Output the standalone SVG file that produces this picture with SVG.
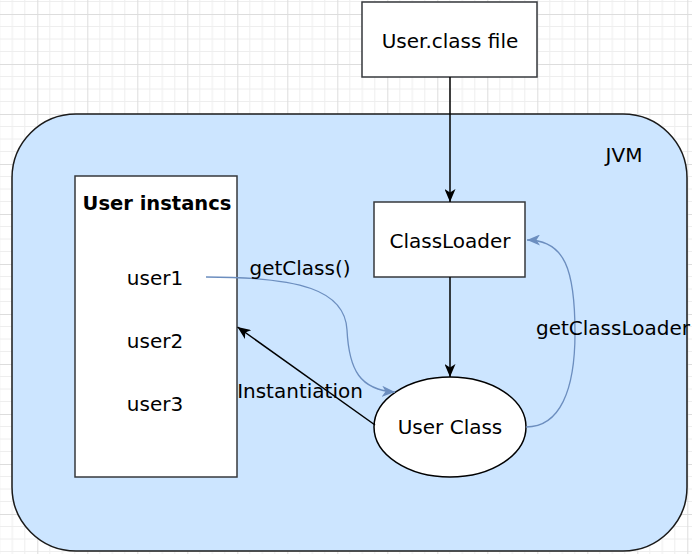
<svg xmlns="http://www.w3.org/2000/svg" width="692" height="554" viewBox="0 0 692 554">
  <style>
    text { font-family: "DejaVu Sans", "Liberation Sans", sans-serif; font-size: 20px; fill: #000; text-anchor: middle; }
    .box { fill: #ffffff; stroke: #36393d; stroke-width: 1.5; }
    .jvm { fill: #cce5ff; stroke: #1a1a1a; stroke-width: 1.5; }
    .edge { fill: none; stroke: #000; stroke-width: 1.5; }
    .blue { fill: none; stroke: #6c8ebf; stroke-width: 1.3; }
  </style>
  <defs>
    <pattern id="grid" patternUnits="userSpaceOnUse" x="37.3" y="14" width="50" height="50">
      <path d="M12.5,0 V50 M25,0 V50 M37.5,0 V50 M0,12.5 H50 M0,25 H50 M0,37.5 H50" stroke="#eeeeee" stroke-width="1" fill="none"/>
      <path d="M0.5,0 V50 M0,0.5 H50" stroke="#dddddd" stroke-width="1" fill="none"/>
    </pattern>
    <marker id="arrBlack" markerUnits="userSpaceOnUse" viewBox="0 0 13 11" refX="13" refY="5.5" markerWidth="13" markerHeight="11" orient="auto">
      <path d="M0,0 L13,5.5 L0,11 L3.5,5.5 Z" fill="#000"/>
    </marker>
    <marker id="arrBlue" markerUnits="userSpaceOnUse" viewBox="0 0 13 11" refX="13" refY="5.5" markerWidth="13" markerHeight="11" orient="auto">
      <path d="M0,0 L13,5.5 L0,11 L3.5,5.5 Z" fill="#6c8ebf"/>
    </marker>
  </defs>

  <rect x="0" y="0" width="692" height="554" fill="#ffffff"/>
  <rect x="0" y="0" width="692" height="554" fill="url(#grid)"/>

  <g id="jvm">
    <rect class="jvm" x="12" y="114" width="675" height="437" rx="64" ry="64"/>
    <text x="624" y="162">JVM</text>
  </g>

  <g id="userclassfile">
    <rect class="box" x="362" y="2" width="175" height="75"/>
    <text x="450" y="48">User.class file</text>
  </g>

  <g id="userinstances">
    <rect class="box" x="75" y="176" width="162" height="301"/>
    <text x="157" y="210" style="font-weight:bold;font-size:19.5px">User instancs</text>
    <text x="155" y="285">user1</text>
    <text x="155" y="348">user2</text>
    <text x="155" y="411">user3</text>
  </g>

  <g id="classloader">
    <rect class="box" x="374" y="202" width="151" height="75"/>
    <text x="450" y="248">ClassLoader</text>
  </g>

  <g id="userclass">
    <ellipse cx="450" cy="427" rx="76" ry="50" fill="#ffffff" stroke="#000" stroke-width="1.5"/>
    <text x="450" y="434">User Class</text>
  </g>

  <g id="connectors">
    <line class="edge" x1="450" y1="77" x2="450" y2="202" marker-end="url(#arrBlack)"/>
    <line class="edge" x1="450" y1="277" x2="450" y2="377" marker-end="url(#arrBlack)"/>
    <line class="edge" x1="375" y1="425" x2="237.5" y2="327" marker-end="url(#arrBlack)"/>
    <path class="blue" d="M206,277 C300,277 345,290 347,330 C349,370 360,390 395,392" marker-end="url(#arrBlue)"/>
    <path class="blue" d="M526,427 C560,427 575,390 575,333 C575,270 565,240 527,240" marker-end="url(#arrBlue)"/>
    <text x="300" y="275">getClass()</text>
    <text x="300" y="398">Instantiation</text>
    <text x="536" y="335" style="text-anchor:start">getClassLoader</text>
  </g>
</svg>
